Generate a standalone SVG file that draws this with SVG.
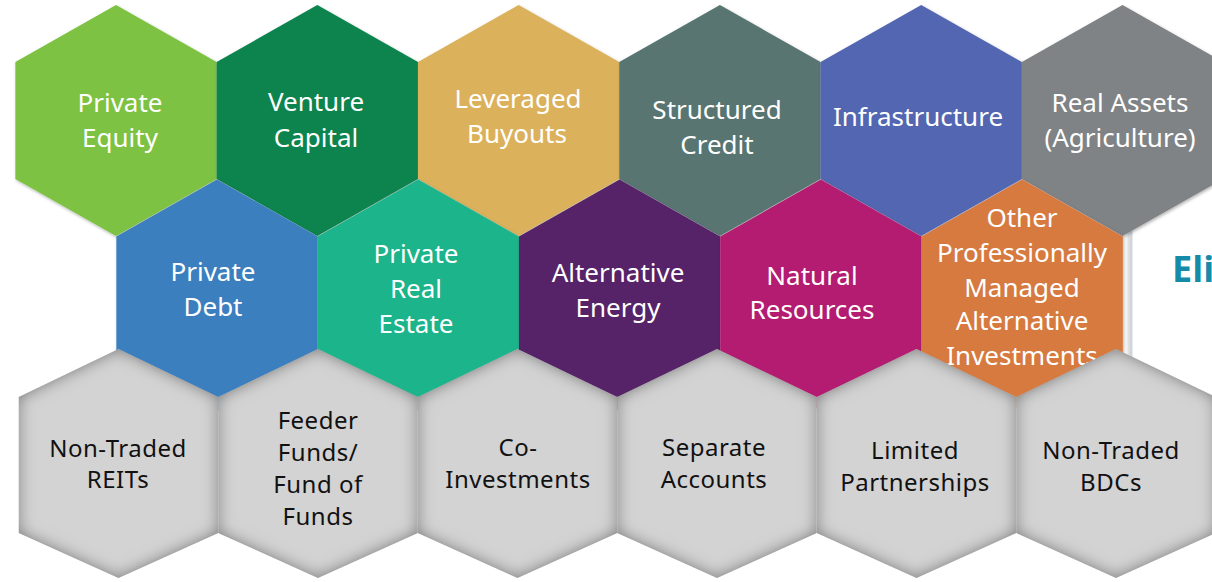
<svg xmlns="http://www.w3.org/2000/svg" xmlns:xlink="http://www.w3.org/1999/xlink" width="1212" height="582" viewBox="0 0 1212 582">
<style>
.w{fill:#ffffff;font-family:"Noto Sans","Open Sans",sans-serif;font-size:26px;text-anchor:middle}
.k{fill:#111111;font-family:"Noto Sans","Open Sans",sans-serif;font-size:24px;text-anchor:middle;letter-spacing:0.5px}
.sh{filter:url(#drop)}
.gr{fill:#d3d3d3;filter:url(#inner)}
</style>
<defs>
<polygon id="hx" points="0,-116.5 100.65,-59.5 100.65,57.5 0,114.5 -100.65,57.5 -100.65,-59.5"/>
<polygon id="hg" points="0,-114.5 99.75,-66.5 99.75,69.5 0,114.5 -99.75,69.5 -99.75,-66.5"/>
<filter id="drop" x="-10%" y="-10%" width="120%" height="120%">
<feDropShadow dx="1" dy="1.5" stdDeviation="1.5" flood-color="#000" flood-opacity="0.3"/>
</filter>
<filter id="inner" x="-5%" y="-5%" width="110%" height="110%">
<feFlood flood-color="#5a5a5a" result="f"/>
<feComposite in="f" in2="SourceAlpha" operator="out" result="o"/>
<feGaussianBlur in="o" stdDeviation="8" result="b"/>
<feComposite in="b" in2="SourceAlpha" operator="in" result="i"/>
<feMerge><feMergeNode in="SourceGraphic"/><feMergeNode in="i"/></feMerge>
</filter>
<filter id="boxsh" x="-20%" y="-20%" width="140%" height="140%">
<feDropShadow dx="0" dy="0" stdDeviation="2.5" flood-color="#000" flood-opacity="0.35"/>
</filter>
</defs>

<g id="eligibility-box">
<rect x="1131" y="170" width="120" height="250" rx="8" fill="#ffffff" stroke="#d0d5da" stroke-width="3" filter="url(#boxsh)"/>
<text x="1172" y="282" font-family="'Open Sans','Noto Sans',sans-serif" font-weight="bold" font-size="36" fill="#168ba8">Eli</text>
</g>

<g id="connectors"/>

<g id="row1">
<g id="private-equity"><use href="#hx" x="116" y="121.5" fill="#7dc243" class="sh"/><text class="w" x="120" y="112">Private</text><text class="w" x="120" y="147">Equity</text></g>
<g id="venture-capital"><use href="#hx" x="317.3" y="121.5" fill="#08844e" class="sh"/><text class="w" x="316" y="111">Venture</text><text class="w" x="316" y="147">Capital</text></g>
<g id="leveraged-buyouts"><use href="#hx" x="518.6" y="121.5" fill="#dbb15b" class="sh"/><text class="w" x="518" y="108">Leveraged</text><text class="w" x="517" y="143">Buyouts</text></g>
<g id="structured-credit"><use href="#hx" x="719.9" y="121.5" fill="#587571" class="sh"/><text class="w" x="717" y="119">Structured</text><text class="w" x="717" y="154">Credit</text></g>
<g id="infrastructure"><use href="#hx" x="921.2" y="121.5" fill="#5366b2" class="sh"/><text class="w" x="918" y="126">Infrastructure</text></g>
<g id="real-assets"><use href="#hx" x="1122.5" y="121.5" fill="#7f8385" class="sh"/><text class="w" x="1120" y="112">Real Assets</text><text class="w" x="1120" y="147">(Agriculture)</text></g>
</g>

<g id="row2">
<g id="private-debt"><use href="#hx" x="217" y="296" fill="#3b7fbf" class="sh"/><text class="w" x="213" y="281">Private</text><text class="w" x="213" y="316">Debt</text></g>
<g id="private-real-estate"><use href="#hx" x="418.3" y="296" fill="#1bb48a" class="sh"/><text class="w" x="416" y="263">Private</text><text class="w" x="416" y="298">Real</text><text class="w" x="416" y="333">Estate</text></g>
<g id="alternative-energy"><use href="#hx" x="619.6" y="296" fill="#572468" class="sh"/><text class="w" x="618" y="282">Alternative</text><text class="w" x="618" y="317">Energy</text></g>
<g id="natural-resources"><use href="#hx" x="820.9" y="296" fill="#b31e71" class="sh"/><text class="w" x="812" y="285">Natural</text><text class="w" x="812" y="319">Resources</text></g>
<g id="other-alternatives"><use href="#hx" x="1022.2" y="296" fill="#d67a40" class="sh"/><text class="w" x="1022" y="227">Other</text><text class="w" x="1022" y="262">Professionally</text><text class="w" x="1022" y="297">Managed</text><text class="w" x="1022" y="330" font-size="24">Alternative</text><text class="w" x="1022" y="365">Investments</text></g>
</g>

<g id="row3">
<g id="non-traded-reits"><use href="#hg" x="118.5" y="463.5" class="gr"/><text class="k" x="118" y="457">Non-Traded</text><text class="k" x="118" y="488">REITs</text></g>
<g id="feeder-funds"><use href="#hg" x="318" y="463.5" class="gr"/><text class="k" x="318" y="429">Feeder</text><text class="k" x="318" y="461">Funds/</text><text class="k" x="318" y="493">Fund of</text><text class="k" x="318" y="525">Funds</text></g>
<g id="co-investments"><use href="#hg" x="517.5" y="463.5" class="gr"/><text class="k" x="518" y="456">Co-</text><text class="k" x="518" y="488">Investments</text></g>
<g id="separate-accounts"><use href="#hg" x="717" y="463.5" class="gr"/><text class="k" x="714" y="456">Separate</text><text class="k" x="714" y="488">Accounts</text></g>
<g id="limited-partnerships"><use href="#hg" x="916.5" y="463.5" class="gr"/><text class="k" x="915" y="459">Limited</text><text class="k" x="915" y="491">Partnerships</text></g>
<g id="non-traded-bdcs"><use href="#hg" x="1116" y="463.5" class="gr"/><text class="k" x="1111" y="459">Non-Traded</text><text class="k" x="1111" y="491">BDCs</text></g>
</g>
</svg>
